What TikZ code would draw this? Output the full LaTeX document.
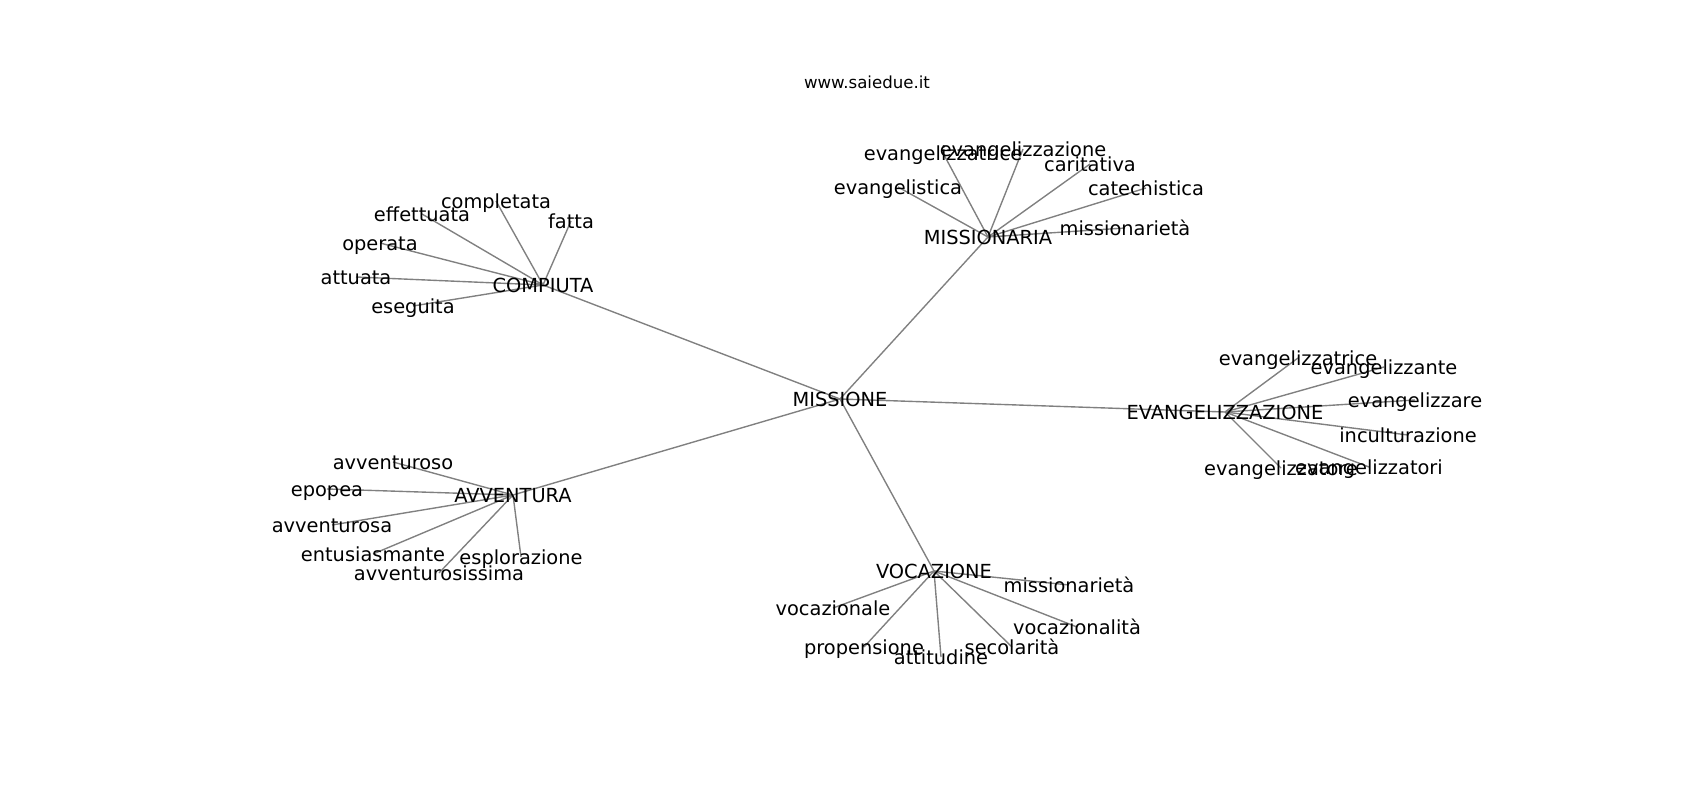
\documentclass[tikz,border=0pt]{standalone}
\usepackage{fontspec}
\setmainfont{DejaVu Sans}
\usetikzlibrary{backgrounds}

\begin{document}
\begin{tikzpicture}[
    x=0.01in, y=-0.01in,
    word/.style={font=\fontsize{14}{16}\selectfont, inner sep=0pt,
                 text height=12.2pt, text depth=1.8pt},
    title/.style={font=\fontsize{12}{14}\selectfont, inner sep=0pt},
    edge/.style={gray, line width=1pt}
]
\useasboundingbox (0,0) rectangle (1700,800);

% Title
\node[title] (site) at (867,82) {www.saiedue.it};

% Centre and hubs
\node[word] (missione) at (840,399) {MISSIONE};
\node[word] (compiuta) at (543,285) {COMPIUTA};
\node[word] (missionaria) at (988,237) {MISSIONARIA};
\node[word] (evangelizzazione) at (1225,412) {EVANGELIZZAZIONE};
\node[word] (avventura) at (513,495) {AVVENTURA};
\node[word] (vocazione) at (934,571) {VOCAZIONE};

% Words round COMPIUTA
\node[word] (completata) at (496,201) {completata};
\node[word] (effettuata) at (422,214) {effettuata};
\node[word] (fatta) at (571,221) {fatta};
\node[word] (operata) at (380,243) {operata};
\node[word] (attuata) at (356,277) {attuata};
\node[word] (eseguita) at (413,306) {eseguita};

% Words round MISSIONARIA
\node[word] (m-evangelizzatrice) at (943,153) {evangelizzatrice};
\node[word] (m-evangelizzazione) at (1023,149) {evangelizzazione};
\node[word] (caritativa) at (1090,164) {caritativa};
\node[word] (evangelistica) at (898,187) {evangelistica};
\node[word] (catechistica) at (1146,188) {catechistica};
\node[word] (m-missionarieta) at (1125,228) {missionarietà};

% Words round EVANGELIZZAZIONE
\node[word] (e-evangelizzatrice) at (1298,358) {evangelizzatrice};
\node[word] (evangelizzante) at (1384,367) {evangelizzante};
\node[word] (evangelizzare) at (1415,400) {evangelizzare};
\node[word] (inculturazione) at (1408,435) {inculturazione};
\node[word] (evangelizzatori) at (1369,467) {evangelizzatori};
\node[word] (evangelizzatore) at (1281,468) {evangelizzatore};

% Words round AVVENTURA
\node[word] (avventuroso) at (393,462) {avventuroso};
\node[word] (epopea) at (327,489) {epopea};
\node[word] (avventurosa) at (332,525) {avventurosa};
\node[word] (entusiasmante) at (373,554) {entusiasmante};
\node[word] (esplorazione) at (521,557) {esplorazione};
\node[word] (avventurosissima) at (439,573) {avventurosissima};

% Words round VOCAZIONE
\node[word] (v-missionarieta) at (1069,585) {missionarietà};
\node[word] (vocazionale) at (833,608) {vocazionale};
\node[word] (vocazionalita) at (1077,627) {vocazionalità};
\node[word] (propensione) at (864,647) {propensione};
\node[word] (attitudine) at (941,657) {attitudine};
\node[word] (secolarita) at (1012,647) {secolarità};

% Edges, under the words
\begin{pgfonlayer}{background}
\draw[edge] (missione.center) -- (compiuta.center);
\draw[edge] (missione.center) -- (missionaria.center);
\draw[edge] (missione.center) -- (evangelizzazione.center);
\draw[edge] (missione.center) -- (avventura.center);
\draw[edge] (missione.center) -- (vocazione.center);

\draw[edge] (compiuta.center) -- (completata.center);
\draw[edge] (compiuta.center) -- (effettuata.center);
\draw[edge] (compiuta.center) -- (fatta.center);
\draw[edge] (compiuta.center) -- (operata.center);
\draw[edge] (compiuta.center) -- (attuata.center);
\draw[edge] (compiuta.center) -- (eseguita.center);

\draw[edge] (missionaria.center) -- (m-evangelizzatrice.center);
\draw[edge] (missionaria.center) -- (m-evangelizzazione.center);
\draw[edge] (missionaria.center) -- (caritativa.center);
\draw[edge] (missionaria.center) -- (evangelistica.center);
\draw[edge] (missionaria.center) -- (catechistica.center);
\draw[edge] (missionaria.center) -- (m-missionarieta.center);

\draw[edge] (evangelizzazione.center) -- (e-evangelizzatrice.center);
\draw[edge] (evangelizzazione.center) -- (evangelizzante.center);
\draw[edge] (evangelizzazione.center) -- (evangelizzare.center);
\draw[edge] (evangelizzazione.center) -- (inculturazione.center);
\draw[edge] (evangelizzazione.center) -- (evangelizzatori.center);
\draw[edge] (evangelizzazione.center) -- (evangelizzatore.center);

\draw[edge] (avventura.center) -- (avventuroso.center);
\draw[edge] (avventura.center) -- (epopea.center);
\draw[edge] (avventura.center) -- (avventurosa.center);
\draw[edge] (avventura.center) -- (entusiasmante.center);
\draw[edge] (avventura.center) -- (esplorazione.center);
\draw[edge] (avventura.center) -- (avventurosissima.center);

\draw[edge] (vocazione.center) -- (v-missionarieta.center);
\draw[edge] (vocazione.center) -- (vocazionale.center);
\draw[edge] (vocazione.center) -- (vocazionalita.center);
\draw[edge] (vocazione.center) -- (propensione.center);
\draw[edge] (vocazione.center) -- (attitudine.center);
\draw[edge] (vocazione.center) -- (secolarita.center);
\end{pgfonlayer}

\end{tikzpicture}
\end{document}
